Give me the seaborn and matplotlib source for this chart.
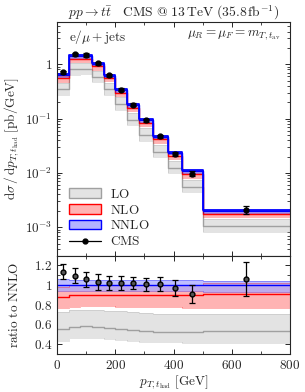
import numpy as np
import pandas as pd
import matplotlib
matplotlib.use("Agg")
import matplotlib.pyplot as plt
from matplotlib.patches import Patch
from matplotlib.lines import Line2D
from matplotlib.ticker import MultipleLocator, LogLocator, NullFormatter
import seaborn as sns

# bin edges in GeV
edges = [0, 40, 80, 120, 160, 200, 240, 280, 330, 380, 430, 500, 800]

# NNLO prediction [pb/GeV]
nnlo = [0.624, 1.395, 1.39, 1.01, 0.615, 0.332, 0.176, 0.0924, 0.0464,
        0.0232, 0.01066, 0.00197]

# CMS data divided by NNLO, with uncertainty on that ratio
cms_ratio = [1.137, 1.097, 1.057, 1.03, 1.024, 1.024, 1.02, 1.007, 1.013,
             0.974, 0.91, 1.064]
cms_ratio_err = [0.08, 0.075, 0.08, 0.08, 0.07, 0.07, 0.06, 0.07, 0.07,
                 0.08, 0.09, 0.17]

# scale bands, relative to NNLO central
nnlo_lo = [0.935, 0.94, 0.94, 0.94, 0.945, 0.945, 0.945, 0.945, 0.945,
           0.945, 0.94, 0.93]
nnlo_hi = [1.06, 1.055, 1.055, 1.05, 1.05, 1.05, 1.05, 1.05, 1.05, 1.05,
           1.05, 1.045]
nlo_c = [0.875, 0.895, 0.9, 0.9, 0.9, 0.9, 0.9, 0.9, 0.895, 0.895, 0.9,
         0.905]
nlo_lo = [0.765, 0.78, 0.785, 0.785, 0.785, 0.78, 0.78, 0.78, 0.775, 0.775,
          0.77, 0.77]
nlo_hi = [0.98, 1.0, 1.0, 1.0, 1.0, 1.0, 1.0, 1.0, 1.0, 1.0, 1.0, 1.02]
lo_c = [0.55, 0.575, 0.58, 0.575, 0.565, 0.555, 0.545, 0.53, 0.52, 0.52,
        0.52, 0.534]
lo_lo = [0.434, 0.46, 0.467, 0.46, 0.45, 0.44, 0.43, 0.42, 0.42, 0.42,
         0.415, 0.41]
lo_hi = [0.724, 0.745, 0.747, 0.745, 0.74, 0.735, 0.728, 0.718, 0.71, 0.708,
         0.707, 0.707]

sns.set_style("ticks")
plt.rcParams["mathtext.fontset"] = "cm"
plt.rcParams["font.family"] = ["DejaVu Serif"]

FS = 9.5
edges = np.array(edges, dtype=float)
centers = 0.5 * (edges[1:] + edges[:-1])
nnlo_a = np.array(nnlo)


def step(v):
    v = np.asarray(v, dtype=float)
    return np.append(v, v[-1])


models = [
    ("LO", lo_c, lo_lo, lo_hi, "#e3e3e3", "#a0a0a0", 1.0),
    ("NLO", nlo_c, nlo_lo, nlo_hi, "#ffb3b3", "#ff0000", 1.0),
    ("NNLO", [1.0] * 12, nnlo_lo, nnlo_hi, "#a8a8ff", "#0000ff", 0.75),
]

fig = plt.figure(figsize=(3.05, 3.92), dpi=100)
ax1 = fig.add_axes([0.187, 0.348, 0.764, 0.596])
ax2 = fig.add_axes([0.187, 0.097, 0.764, 0.251], sharex=ax1)

for name, c, lo, hi, fc, ec, a in models:
    for ax, scale in ((ax1, nnlo_a), (ax2, np.ones(12))):
        ax.fill_between(edges, step(np.array(lo) * scale),
                        step(np.array(hi) * scale),
                        step="post", color=fc, alpha=a, lw=0)
        df = pd.DataFrame({"x": edges, "y": step(np.array(c) * scale)})
        sns.lineplot(data=df, x="x", y="y", ax=ax, color=ec, lw=1.0,
                     drawstyle="steps-post", estimator=None, sort=False)
        for edge in (lo, hi):
            df = pd.DataFrame({"x": edges,
                               "y": step(np.array(edge) * scale)})
            sns.lineplot(data=df, x="x", y="y", ax=ax, color=ec, lw=0.6,
                         alpha=0.35, drawstyle="steps-post", estimator=None,
                         sort=False)

# NNLO upper edge drawn strong in the main panel
df = pd.DataFrame({"x": edges, "y": step(nnlo_a * np.array(nnlo_hi))})
sns.lineplot(data=df, x="x", y="y", ax=ax1, color="#0000ff", lw=1.3,
             drawstyle="steps-post", estimator=None, sort=False)

cms = nnlo_a * np.array(cms_ratio)
cms_err = nnlo_a * np.array(cms_ratio_err)
ax1.errorbar(centers, cms, yerr=cms_err, fmt="o", color="black", ms=3.5,
             lw=0.9, capsize=2, capthick=0.9, zorder=5)
ax2.errorbar(centers, cms_ratio, yerr=cms_ratio_err, fmt="o",
             color="black", mfc="#555555", ms=3.5, lw=0.9, capsize=2,
             capthick=0.9, zorder=5)

ax1.set_yscale("log")
ax1.set_ylim(3e-4, 6.0)
ax1.set_xlim(0, 800)
ax1.set_yticks([1e-3, 1e-2, 1e-1, 1])
ax1.set_yticklabels([r"$10^{-3}$", r"$10^{-2}$", r"$10^{-1}$", r"$1$"])
ax1.yaxis.set_minor_locator(LogLocator(base=10, subs=np.arange(2, 10)))
ax1.yaxis.set_minor_formatter(NullFormatter())
ax1.tick_params(labelbottom=False)
ax1.set_xlabel("")
ax1.set_ylabel(r"$\mathrm{d}\sigma\,/\,\mathrm{d}p_{T,t_\mathrm{had}}\ [\mathrm{pb/GeV}]$",
               fontsize=FS)
ax1.set_title(r"$pp\to t\bar{t}\quad\mathrm{CMS\ @\ 13\,TeV\ (35.8\,fb^{-1})}$",
              fontsize=9.8, pad=4)
ax1.text(0.05, 0.972, r"$\mathrm{e}/\mu+\mathrm{jets}$", transform=ax1.transAxes,
         fontsize=FS, va="top", ha="left")
ax1.text(0.96, 0.972, r"$\mu_R=\mu_F=m_{T,t_\mathrm{av}}$",
         transform=ax1.transAxes, fontsize=FS, va="top", ha="right")

handles = [
    Patch(facecolor="#e3e3e3", edgecolor="#a0a0a0", lw=1.0),
    Patch(facecolor="#ffb3b3", edgecolor="#ff0000", lw=1.0),
    Patch(facecolor="#b3b3ff", edgecolor="#0000ff", lw=1.0),
    Line2D([], [], color="black", marker="o", ms=3.5, lw=0.9),
]
ax1.legend(handles, [r"$\mathrm{LO}$", r"$\mathrm{NLO}$", r"$\mathrm{NNLO}$",
                     r"$\mathrm{CMS}$"],
           loc="lower left", bbox_to_anchor=(0.0, -0.02), frameon=False,
           fontsize=FS, handlelength=2.4, handleheight=0.7, labelspacing=0.22,
           handletextpad=0.7)

ax2.set_ylim(0.3, 1.3)
ax2.set_yticks([0.4, 0.6, 0.8, 1.0, 1.2])
ax2.set_yticklabels([r"$0.4$", r"$0.6$", r"$0.8$", r"$1$", r"$1.2$"])
ax2.yaxis.set_minor_locator(MultipleLocator(0.1))
ax2.set_xticks([0, 200, 400, 600, 800])
ax2.set_xticklabels([r"$0$", r"$200$", r"$400$", r"$600$", r"$800$"])
ax2.xaxis.set_minor_locator(MultipleLocator(100))
ax2.set_xlabel(r"$p_{T,t_\mathrm{had}}\ [\mathrm{GeV}]$", fontsize=FS,
               labelpad=1)
ax2.set_ylabel(r"$\mathrm{ratio\ to\ NNLO}$", fontsize=FS)

for ax in (ax1, ax2):
    ax.tick_params(which="both", labelsize=FS, direction="in", top=True,
                   right=True)
    ax.tick_params(which="major", length=3.5, width=0.7)
    ax.tick_params(which="minor", length=2, width=0.6)
    for s in ax.spines.values():
        s.set_linewidth(0.8)
ax1.yaxis.set_label_coords(-0.155, 0.5)
ax2.yaxis.set_label_coords(-0.155, 0.5)

fig.savefig("out.png", dpi=100)
